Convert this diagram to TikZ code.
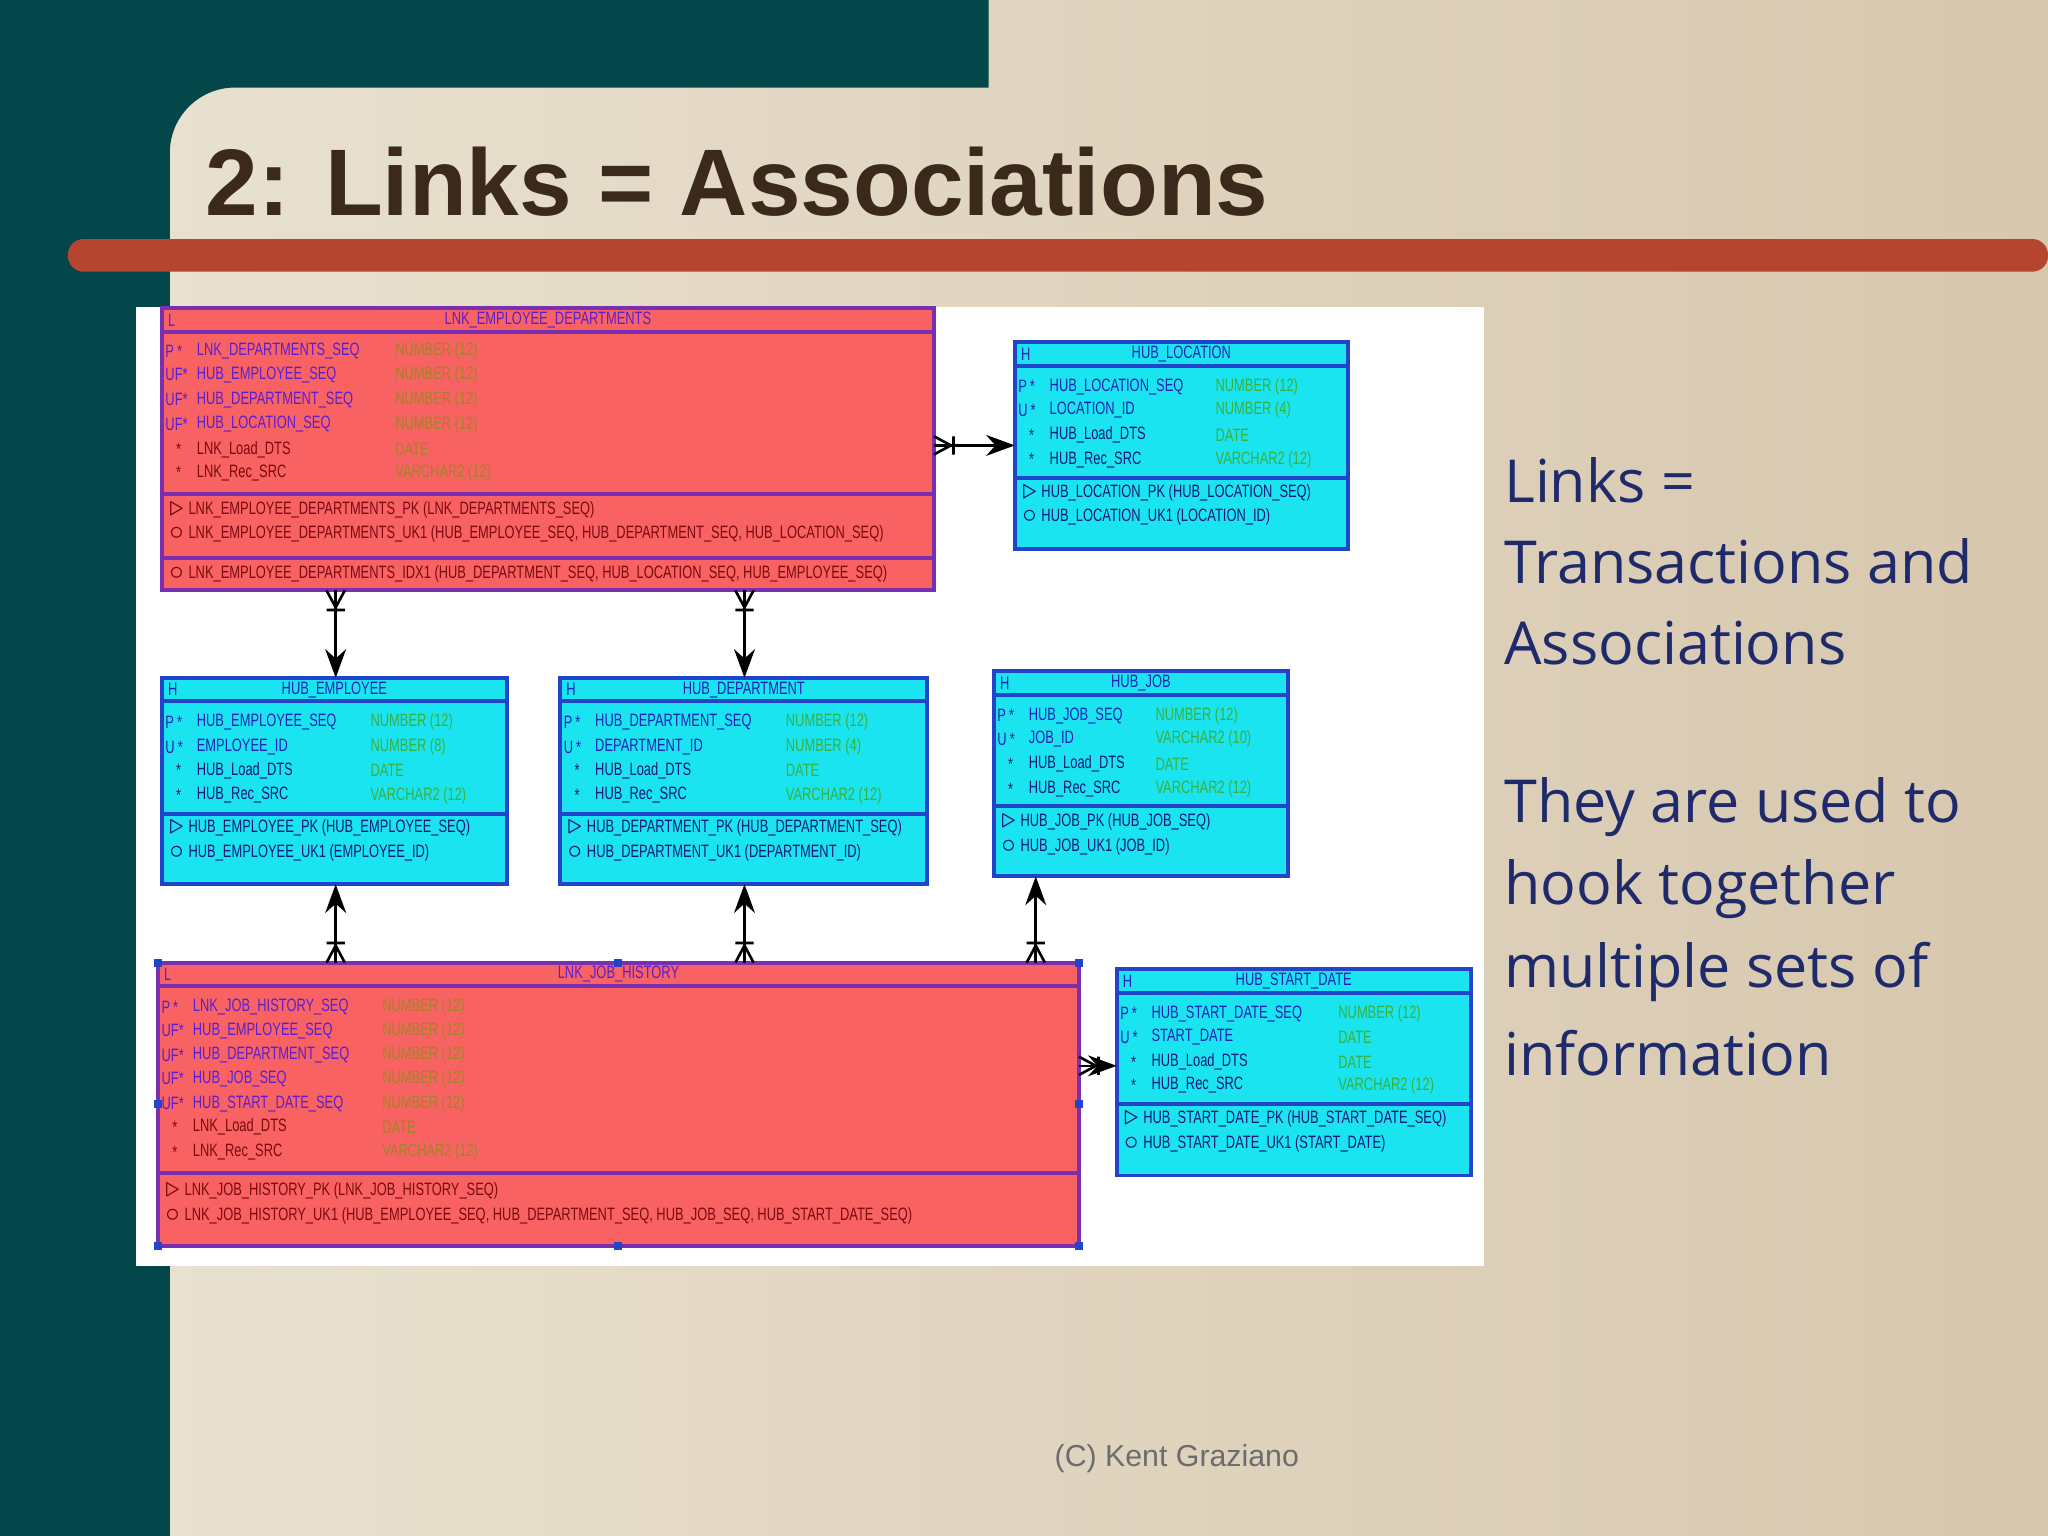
\documentclass[tikz,border=0pt]{standalone}
\usepackage{fontspec}
\setmainfont{Liberation Sans}
\newfontfamily\erf[FakeStretch=0.72]{Liberation Sans}
\newfontfamily\osf{Open Sans}
\usetikzlibrary{arrows.meta}
\definecolor{teal0}{HTML}{03474A}
\definecolor{bgA}{HTML}{EAE3D3}
\definecolor{bgB}{HTML}{D7C7AE}
\definecolor{barR}{HTML}{B5452E}
\definecolor{titleC}{HTML}{3B2A1C}
\definecolor{navy}{HTML}{1F2A6B}
\definecolor{redF}{HTML}{F86262}
\definecolor{redB}{HTML}{7A2FB0}
\definecolor{cyF}{HTML}{1AE4F0}
\definecolor{cyB}{HTML}{2244C8}
\definecolor{nmR}{HTML}{5A1FD0}
\definecolor{tyR}{HTML}{A08525}
\definecolor{ixR}{HTML}{7A0A10}
\definecolor{nmC}{HTML}{2222B8}
\definecolor{tyC}{HTML}{3CB03C}
\definecolor{ixC}{HTML}{101A7A}
\tikzset{
 redtab/.style={draw=redB,fill=redF,line width=0.3mm,inner sep=0,outer sep=0},
 cytab/.style={draw=cyB,fill=cyF,line width=0.3mm,inner sep=0,outer sep=0},
 ertxt/.style={anchor=west,inner sep=0,font=\erf\fontsize{3.9}{4}\selectfont},
 conn/.style={line width=0.2mm,-{Stealth[length=2.2mm,width=1.6mm]}},
 crowline/.style={line width=0.2mm},
 side/.style={anchor=west,inner sep=0,text=navy,font=\osf\fontsize{12.9}{15}\selectfont},
}
\newcommand{\errow}[8]{%
 \node[ertxt,text=#6] at (#1,#2) {#3};
 \node[ertxt,text=#6] at (#1+24,#2) {#4};
 \node[ertxt,text=#7] at (#8,#2) {#5};}
\newcommand{\crowfoot}[3]{% x y angle (outward direction)
 \begin{scope}[shift={(#1,#2)},rotate=#3]
 \draw[crowline] (0,-7) -- (13,0) -- (0,7) (15,-7)--(15,7);
 \end{scope}}
\begin{document}
\begin{tikzpicture}[x=0.1mm,y=-0.1mm]
\useasboundingbox (0,0) rectangle (1568,1176);
\shade[left color=bgA,right color=bgB] (0,0) rectangle (1568,1176);
\fill[teal0] (0,0) -- (757,0) -- (757,67) [rounded corners=5mm] -- (130,67) [sharp corners] -- (130,1176) -- (0,1176) -- cycle;
\node[anchor=base west,inner sep=0,text=titleC,font=\bfseries\fontsize{20.6}{24}\selectfont] (title) at (157,165) {2: Links = Associations};
\fill[barR,rounded corners=1.2mm] (52,183) rectangle (1568,208);
\fill[white] (104,235) rectangle (1136,969);

% ---------- LNK_EMPLOYEE_DEPARTMENTS
\node[redtab,minimum width=59.1mm,minimum height=21.6mm] (ED) at (419.5,344) {};
\draw[redB,line width=0.3mm] (124,254)--(715,254) (124,378)--(715,378) (124,427)--(715,427);
\node[ertxt,text=nmR] (EDl) at (128,245) {L};
\node[inner sep=0,text=nmR,font=\erf\fontsize{3.9}{4}\selectfont] (EDh) at (419.5,245) {LNK\_EMPLOYEE\_DEPARTMENTS};
\errow{126}{269}{P\,*}{LNK\_DEPARTMENTS\_SEQ}{NUMBER (12)}{nmR}{tyR}{302}
\errow{126}{287}{UF*}{HUB\_EMPLOYEE\_SEQ}{NUMBER (12)}{nmR}{tyR}{302}
\errow{126}{306}{UF*}{HUB\_DEPARTMENT\_SEQ}{NUMBER (12)}{nmR}{tyR}{302}
\errow{126}{325}{UF*}{HUB\_LOCATION\_SEQ}{NUMBER (12)}{nmR}{tyR}{302}
\errow{126}{344}{\ \ \ *}{LNK\_Load\_DTS}{DATE}{ixR}{tyR}{302}
\errow{126}{362}{\ \ \ *}{LNK\_Rec\_SRC}{VARCHAR2 (12)}{ixR}{tyR}{302}
\node[ertxt,text=ixR] at (128,390) {$\triangleright$ LNK\_EMPLOYEE\_DEPARTMENTS\_PK (LNK\_DEPARTMENTS\_SEQ)};
\node[ertxt,text=ixR] at (128,409) {$\circ$ LNK\_EMPLOYEE\_DEPARTMENTS\_UK1 (HUB\_EMPLOYEE\_SEQ, HUB\_DEPARTMENT\_SEQ, HUB\_LOCATION\_SEQ)};
\node[ertxt,text=ixR] at (128,439) {$\circ$ LNK\_EMPLOYEE\_DEPARTMENTS\_IDX1 (HUB\_DEPARTMENT\_SEQ, HUB\_LOCATION\_SEQ, HUB\_EMPLOYEE\_SEQ)};

% ---------- HUB_LOCATION
\node[cytab,minimum width=25.5mm,minimum height=15.8mm] (LOC) at (904.5,341) {};
\draw[cyB,line width=0.3mm] (777,280)--(1032,280) (777,366)--(1032,366);
\node[ertxt,text=nmC] at (781,271) {H};
\node[inner sep=0,text=nmC,font=\erf\fontsize{3.9}{4}\selectfont] at (904.5,271) {HUB\_LOCATION};
\errow{779}{296}{P\,*}{HUB\_LOCATION\_SEQ}{NUMBER (12)}{nmC}{tyC}{930}
\errow{779}{314}{U\,*}{LOCATION\_ID}{NUMBER (4)}{nmC}{tyC}{930}
\errow{779}{333}{\ \ \ *}{HUB\_Load\_DTS}{DATE}{ixC}{tyC}{930}
\errow{779}{352}{\ \ \ *}{HUB\_Rec\_SRC}{VARCHAR2 (12)}{ixC}{tyC}{930}
\node[ertxt,text=ixC] at (781,377) {$\triangleright$ HUB\_LOCATION\_PK (HUB\_LOCATION\_SEQ)};
\node[ertxt,text=ixC] at (781,396) {$\circ$ HUB\_LOCATION\_UK1 (LOCATION\_ID)};

% ---------- HUB_EMPLOYEE
\node[cytab,minimum width=26.4mm,minimum height=15.8mm] (EMP) at (256,598) {};
\draw[cyB,line width=0.3mm] (124,537)--(388,537) (124,623)--(388,623);
\node[ertxt,text=nmC] at (128,528) {H};
\node[inner sep=0,text=nmC,font=\erf\fontsize{3.9}{4}\selectfont] at (256,528) {HUB\_EMPLOYEE};
\errow{126}{553}{P\,*}{HUB\_EMPLOYEE\_SEQ}{NUMBER (12)}{nmC}{tyC}{283}
\errow{126}{572}{U\,*}{EMPLOYEE\_ID}{NUMBER (8)}{nmC}{tyC}{283}
\errow{126}{590}{\ \ \ *}{HUB\_Load\_DTS}{DATE}{ixC}{tyC}{283}
\errow{126}{609}{\ \ \ *}{HUB\_Rec\_SRC}{VARCHAR2 (12)}{ixC}{tyC}{283}
\node[ertxt,text=ixC] at (128,634) {$\triangleright$ HUB\_EMPLOYEE\_PK (HUB\_EMPLOYEE\_SEQ)};
\node[ertxt,text=ixC] at (128,653) {$\circ$ HUB\_EMPLOYEE\_UK1 (EMPLOYEE\_ID)};

% ---------- HUB_DEPARTMENT
\node[cytab,minimum width=28.1mm,minimum height=15.8mm] (DEP) at (569.5,598) {};
\draw[cyB,line width=0.3mm] (429,537)--(710,537) (429,623)--(710,623);
\node[ertxt,text=nmC] at (433,528) {H};
\node[inner sep=0,text=nmC,font=\erf\fontsize{3.9}{4}\selectfont] at (569.5,528) {HUB\_DEPARTMENT};
\errow{431}{553}{P\,*}{HUB\_DEPARTMENT\_SEQ}{NUMBER (12)}{nmC}{tyC}{601}
\errow{431}{572}{U\,*}{DEPARTMENT\_ID}{NUMBER (4)}{nmC}{tyC}{601}
\errow{431}{590}{\ \ \ *}{HUB\_Load\_DTS}{DATE}{ixC}{tyC}{601}
\errow{431}{609}{\ \ \ *}{HUB\_Rec\_SRC}{VARCHAR2 (12)}{ixC}{tyC}{601}
\node[ertxt,text=ixC] at (433,634) {$\triangleright$ HUB\_DEPARTMENT\_PK (HUB\_DEPARTMENT\_SEQ)};
\node[ertxt,text=ixC] at (433,653) {$\circ$ HUB\_DEPARTMENT\_UK1 (DEPARTMENT\_ID)};

% ---------- HUB_JOB
\node[cytab,minimum width=22.5mm,minimum height=15.7mm] (JOB) at (873.5,592.5) {};
\draw[cyB,line width=0.3mm] (761,532)--(986,532) (761,617)--(986,617);
\node[ertxt,text=nmC] at (765,523) {H};
\node[inner sep=0,text=nmC,font=\erf\fontsize{3.9}{4}\selectfont] at (873.5,523) {HUB\_JOB};
\errow{763}{548}{P\,*}{HUB\_JOB\_SEQ}{NUMBER (12)}{nmC}{tyC}{884}
\errow{763}{566}{U\,*}{JOB\_ID}{VARCHAR2 (10)}{nmC}{tyC}{884}
\errow{763}{585}{\ \ \ *}{HUB\_Load\_DTS}{DATE}{ixC}{tyC}{884}
\errow{763}{604}{\ \ \ *}{HUB\_Rec\_SRC}{VARCHAR2 (12)}{ixC}{tyC}{884}
\node[ertxt,text=ixC] at (765,629) {$\triangleright$ HUB\_JOB\_PK (HUB\_JOB\_SEQ)};
\node[ertxt,text=ixC] at (765,648) {$\circ$ HUB\_JOB\_UK1 (JOB\_ID)};

% ---------- LNK_JOB_HISTORY
\node[redtab,minimum width=70.5mm,minimum height=21.7mm] (JH) at (473.5,845.5) {};
\draw[redB,line width=0.3mm] (121,755)--(826,755) (121,898)--(826,898);
\node[ertxt,text=nmR] at (125,746) {L};
\node[inner sep=0,text=nmR,font=\erf\fontsize{3.9}{4}\selectfont] at (473.5,746) {LNK\_JOB\_HISTORY};
\errow{123}{771}{P\,*}{LNK\_JOB\_HISTORY\_SEQ}{NUMBER (12)}{nmR}{tyR}{292}
\errow{123}{789}{UF*}{HUB\_EMPLOYEE\_SEQ}{NUMBER (12)}{nmR}{tyR}{292}
\errow{123}{808}{UF*}{HUB\_DEPARTMENT\_SEQ}{NUMBER (12)}{nmR}{tyR}{292}
\errow{123}{826}{UF*}{HUB\_JOB\_SEQ}{NUMBER (12)}{nmR}{tyR}{292}
\errow{123}{845}{UF*}{HUB\_START\_DATE\_SEQ}{NUMBER (12)}{nmR}{tyR}{292}
\errow{123}{863}{\ \ \ *}{LNK\_Load\_DTS}{DATE}{ixR}{tyR}{292}
\errow{123}{882}{\ \ \ *}{LNK\_Rec\_SRC}{VARCHAR2 (12)}{ixR}{tyR}{292}
\node[ertxt,text=ixR] at (125,912) {$\triangleright$ LNK\_JOB\_HISTORY\_PK (LNK\_JOB\_HISTORY\_SEQ)};
\node[ertxt,text=ixR] at (125,931) {$\circ$ LNK\_JOB\_HISTORY\_UK1 (HUB\_EMPLOYEE\_SEQ, HUB\_DEPARTMENT\_SEQ, HUB\_JOB\_SEQ, HUB\_START\_DATE\_SEQ)};
\foreach \p in {(121,737),(473,737),(826,737),(121,845),(826,845),(121,954),(473,954),(826,954)}
  \fill[cyB] \p +(-3,-3) rectangle +(3,3);

% ---------- HUB_START_DATE
\node[cytab,minimum width=27.1mm,minimum height=15.8mm] (SD) at (990.5,821) {};
\draw[cyB,line width=0.3mm] (855,760)--(1126,760) (855,845)--(1126,845);
\node[ertxt,text=nmC] at (859,751) {H};
\node[inner sep=0,text=nmC,font=\erf\fontsize{3.9}{4}\selectfont] at (990.5,751) {HUB\_START\_DATE};
\errow{857}{776}{P\,*}{HUB\_START\_DATE\_SEQ}{NUMBER (12)}{nmC}{tyC}{1024}
\errow{857}{794}{U\,*}{START\_DATE}{DATE}{nmC}{tyC}{1024}
\errow{857}{813}{\ \ \ *}{HUB\_Load\_DTS}{DATE}{ixC}{tyC}{1024}
\errow{857}{831}{\ \ \ *}{HUB\_Rec\_SRC}{VARCHAR2 (12)}{ixC}{tyC}{1024}
\node[ertxt,text=ixC] at (859,857) {$\triangleright$ HUB\_START\_DATE\_PK (HUB\_START\_DATE\_SEQ)};
\node[ertxt,text=ixC] at (859,876) {$\circ$ HUB\_START\_DATE\_UK1 (START\_DATE)};

% ---------- connectors
\draw[conn] (ED.east|-0,341) -- (LOC.west|-0,341);
\crowfoot{715}{341}{0}
\draw[conn] (ED.south-|257,0) -- (EMP.north-|257,0);
\crowfoot{257}{452}{-90}
\draw[conn] (ED.south-|570,0) -- (DEP.north-|570,0);
\crowfoot{570}{452}{-90}
\draw[conn] (JH.north-|257,0) -- (EMP.south-|257,0);
\crowfoot{257}{737}{90}
\draw[conn] (JH.north-|570,0) -- (DEP.south-|570,0);
\crowfoot{570}{737}{90}
\draw[conn] (JH.north-|793,0) -- (JOB.south-|793,0);
\crowfoot{793}{737}{90}
\draw[conn] (JH.east|-0,816) -- (SD.west|-0,816);
\crowfoot{826}{816}{0}

% ---------- side text
\node[side] (s1) at (1151,368) {Links =};
\node[side] (s2) at (1151,430) {Transactions and};
\node[side] (s3) at (1151,492) {Associations};
\node[side] (s4) at (1151,618) {They are used to};
\node[side] (s5) at (1151,681) {hook together};
\node[side] (s6) at (1151,744) {multiple sets of};
\node[side] (s7) at (1151,806) {information};
\node[inner sep=0,text=gray!85!black,font=\fontsize{6.6}{8}\selectfont] (foot) at (901,1117) {(C) Kent Graziano};
\end{tikzpicture}
\end{document}
